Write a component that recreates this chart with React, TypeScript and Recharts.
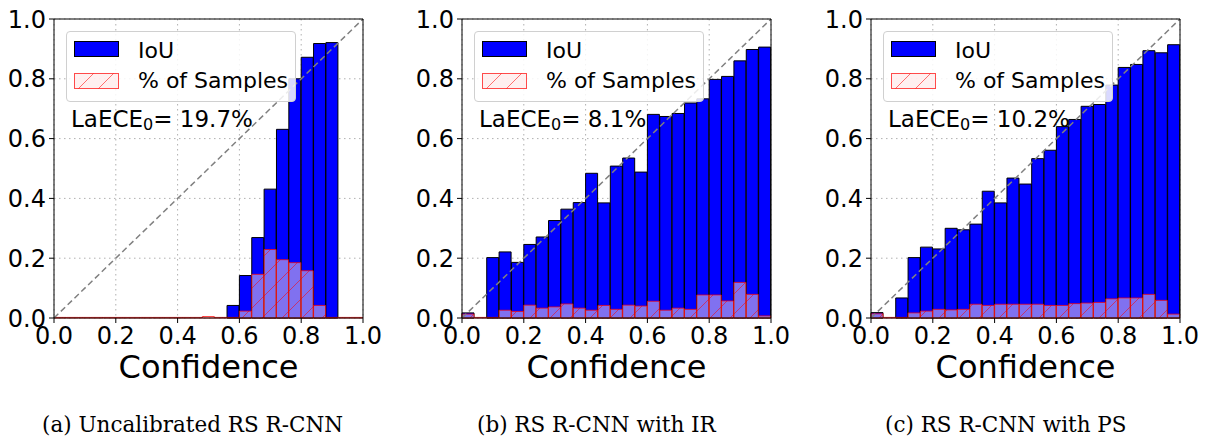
import React from 'react'
import { BarChart, Bar, XAxis, YAxis, CartesianGrid, ReferenceLine } from 'recharts'

// left edge of each confidence bin (25 bins of 0.04)
const bins = [
  '0.00', '0.04', '0.08', '0.12', '0.16', '0.20', '0.24', '0.28', '0.32', '0.36',
  '0.40', '0.44', '0.48', '0.52', '0.56', '0.60', '0.64', '0.68', '0.72', '0.76',
  '0.80', '0.84', '0.88', '0.92', '0.96',
]
const axisTicks = [0, 0.2, 0.4, 0.6, 0.8, 1.0]

// (a) uncalibrated
const iouUncal = [0, 0, 0, 0, 0, 0, 0, 0, 0, 0, 0, 0, 0, 0, 0.042, 0.142, 0.269, 0.431, 0.631, 0.8, 0.872, 0.918, 0.921, 0, 0]
const samplesUncal = [0.002, 0.002, 0.002, 0.002, 0.002, 0.002, 0.002, 0.002, 0.002, 0.002, 0.002, 0.002, 0.005, 0.002, 0.002, 0.023, 0.146, 0.229, 0.195, 0.185, 0.158, 0.042, 0.002, 0.002, 0.002]

// (b) isotonic regression
const iouIR = [0.017, 0, 0.202, 0.221, 0.186, 0.246, 0.271, 0.326, 0.364, 0.386, 0.484, 0.385, 0.508, 0.535, 0.488, 0.681, 0.674, 0.684, 0.719, 0.733, 0.798, 0.808, 0.86, 0.898, 0.906]
const samplesIR = [0.013, 0.002, 0.002, 0.026, 0.022, 0.043, 0.033, 0.037, 0.047, 0.033, 0.026, 0.042, 0.029, 0.043, 0.04, 0.056, 0.026, 0.033, 0.029, 0.077, 0.077, 0.057, 0.119, 0.079, 0.007]

// (c) platt scaling
const iouPS = [0.018, 0, 0.067, 0.202, 0.237, 0.231, 0.3, 0.295, 0.314, 0.424, 0.385, 0.468, 0.448, 0.533, 0.561, 0.64, 0.664, 0.708, 0.714, 0.779, 0.838, 0.848, 0.894, 0.887, 0.914]
const samplesPS = [0.014, 0.002, 0.002, 0.017, 0.023, 0.029, 0.027, 0.029, 0.046, 0.042, 0.046, 0.046, 0.046, 0.046, 0.042, 0.042, 0.048, 0.05, 0.052, 0.064, 0.067, 0.067, 0.079, 0.059, 0.013]

const CHART_W = 384
const CHART_H = 388
const fmt = (v: number) => v.toFixed(1)

function Hatch({ id }: { id: string }) {
  return (
    <pattern id={id} patternUnits="userSpaceOnUse" width={20} height={20}>
      <rect width={20} height={20} fill="rgb(255,225,225)" fillOpacity={0.5} />
      <path d="M-5,5 l10,-10 M0,20 l20,-20 M15,25 l10,-10" stroke="#ff0000" strokeOpacity={0.6} strokeWidth={0.9} />
    </pattern>
  )
}

interface PanelProps {
  id: string
  left: number
  iou: number[]
  samples: number[]
  ece: string
}

function Panel({ id, left, iou, samples, ece }: PanelProps) {
  // mid = bin centre, only used to feed the numeric axis
  const rows = bins.map((b, i) => ({ bin: b, mid: Number(b) + 0.02, iou: iou[i], samples: samples[i] }))
  const hatchId = 'hatch-' + id

  return (
    <div style={{ position: 'absolute', left, top: 0, width: CHART_W, height: CHART_H }}>
      <BarChart
        width={CHART_W}
        height={CHART_H}
        data={rows}
        margin={{ top: 19, right: 21, left: 4, bottom: 0 }}
        barCategoryGap={0}
        barGap={0}
      >
        <defs>
          <Hatch id={hatchId} />
        </defs>
        <CartesianGrid xAxisId="num" stroke="#b0b0b0" strokeDasharray="1.5 3.5" />
        <XAxis
          xAxisId="num"
          dataKey="mid"
          type="number"
          domain={[0, 1]}
          allowDataOverflow
          ticks={axisTicks}
          interval={0}
          tickFormatter={fmt}
          height={70}
          stroke="#000"
          fontSize={24}
          tick={{ fill: '#000', fontSize: 24 }}
          tickSize={5}
          tickMargin={4}
          label={{ value: 'Confidence', position: 'insideBottom', offset: 10, fontSize: 32, fill: '#000' }}
        />
        <XAxis xAxisId="iou" dataKey="bin" hide height={0} />
        <XAxis xAxisId="smp" dataKey="bin" hide height={0} />
        <YAxis
          type="number"
          domain={[0, 1]}
          ticks={axisTicks}
          interval={0}
          tickFormatter={fmt}
          width={50}
          stroke="#000"
          fontSize={24}
          tick={{ fill: '#000', fontSize: 24 }}
          tickSize={5}
          tickMargin={3}
        />
        <Bar xAxisId="iou" dataKey="iou" fill="#0000ff" stroke="#000" strokeWidth={1} isAnimationActive={false} />
        <Bar
          xAxisId="smp"
          dataKey="samples"
          fill={`url(#${hatchId})`}
          stroke="#ff0000"
          strokeOpacity={0.7}
          strokeWidth={1}
          isAnimationActive={false}
        />
        <ReferenceLine
          xAxisId="num"
          segment={[{ x: 0, y: 0 }, { x: 1, y: 1 }]}
          stroke="#808080"
          strokeWidth={1.5}
          strokeDasharray="6 3.5"
        />
        <ReferenceLine xAxisId="num" x={1} stroke="#000" />
        <ReferenceLine xAxisId="num" y={1} stroke="#000" />
      </BarChart>

      {/* legend box */}
      <div
        style={{
          position: 'absolute', left: 66, top: 31, width: 230, height: 71, boxSizing: 'border-box',
          border: '1px solid #d0d0d0', borderRadius: 4, background: 'rgba(255,255,255,0.85)',
        }}
      >
        <div style={{ position: 'absolute', left: 7, top: 9, width: 45, height: 16, boxSizing: 'border-box', background: '#0000ff', border: '1px solid #000' }} />
        <svg style={{ position: 'absolute', left: 7, top: 41 }} width={45} height={16}>
          <defs>
            <Hatch id={hatchId + '-leg'} />
          </defs>
          <rect x={0.5} y={0.5} width={44} height={15} fill={`url(#${hatchId}-leg)`} stroke="#ff0000" strokeOpacity={0.7} />
        </svg>
        <div style={{ position: 'absolute', left: 71, top: 8, fontSize: 22, lineHeight: 1, whiteSpace: 'nowrap' }}>IoU</div>
        <div style={{ position: 'absolute', left: 71, top: 38, fontSize: 22, lineHeight: 1, whiteSpace: 'nowrap' }}>% of Samples</div>
      </div>

      <div style={{ position: 'absolute', left: 71, top: 108, fontSize: 23, lineHeight: 1, whiteSpace: 'nowrap' }}>
        LaECE<span style={{ fontSize: 16, position: 'relative', top: 3 }}>0</span>= {ece}
      </div>
    </div>
  )
}

const captionStyle: React.CSSProperties = {
  position: 'absolute', top: 414, fontFamily: '"DejaVu Serif", serif', fontSize: 21.5,
  lineHeight: 1, whiteSpace: 'nowrap', color: '#000',
}

export default function App() {
  return (
    <div
      style={{
        position: 'absolute', left: 0, top: 0, width: 1207, height: 440, background: '#fff',
        fontFamily: '"DejaVu Sans", sans-serif', color: '#000', overflow: 'hidden',
      }}
    >
      <Panel id="a" left={0} iou={iouUncal} samples={samplesUncal} ece="19.7%" />
      <Panel id="b" left={408} iou={iouIR} samples={samplesIR} ece="8.1%" />
      <Panel id="c" left={817} iou={iouPS} samples={samplesPS} ece="10.2%" />

      <div style={{ ...captionStyle, left: 42 }}>(a) Uncalibrated RS R-CNN</div>
      <div style={{ ...captionStyle, left: 477 }}>(b) RS R-CNN with IR</div>
      <div style={{ ...captionStyle, left: 885 }}>(c) RS R-CNN with PS</div>
    </div>
  )
}
